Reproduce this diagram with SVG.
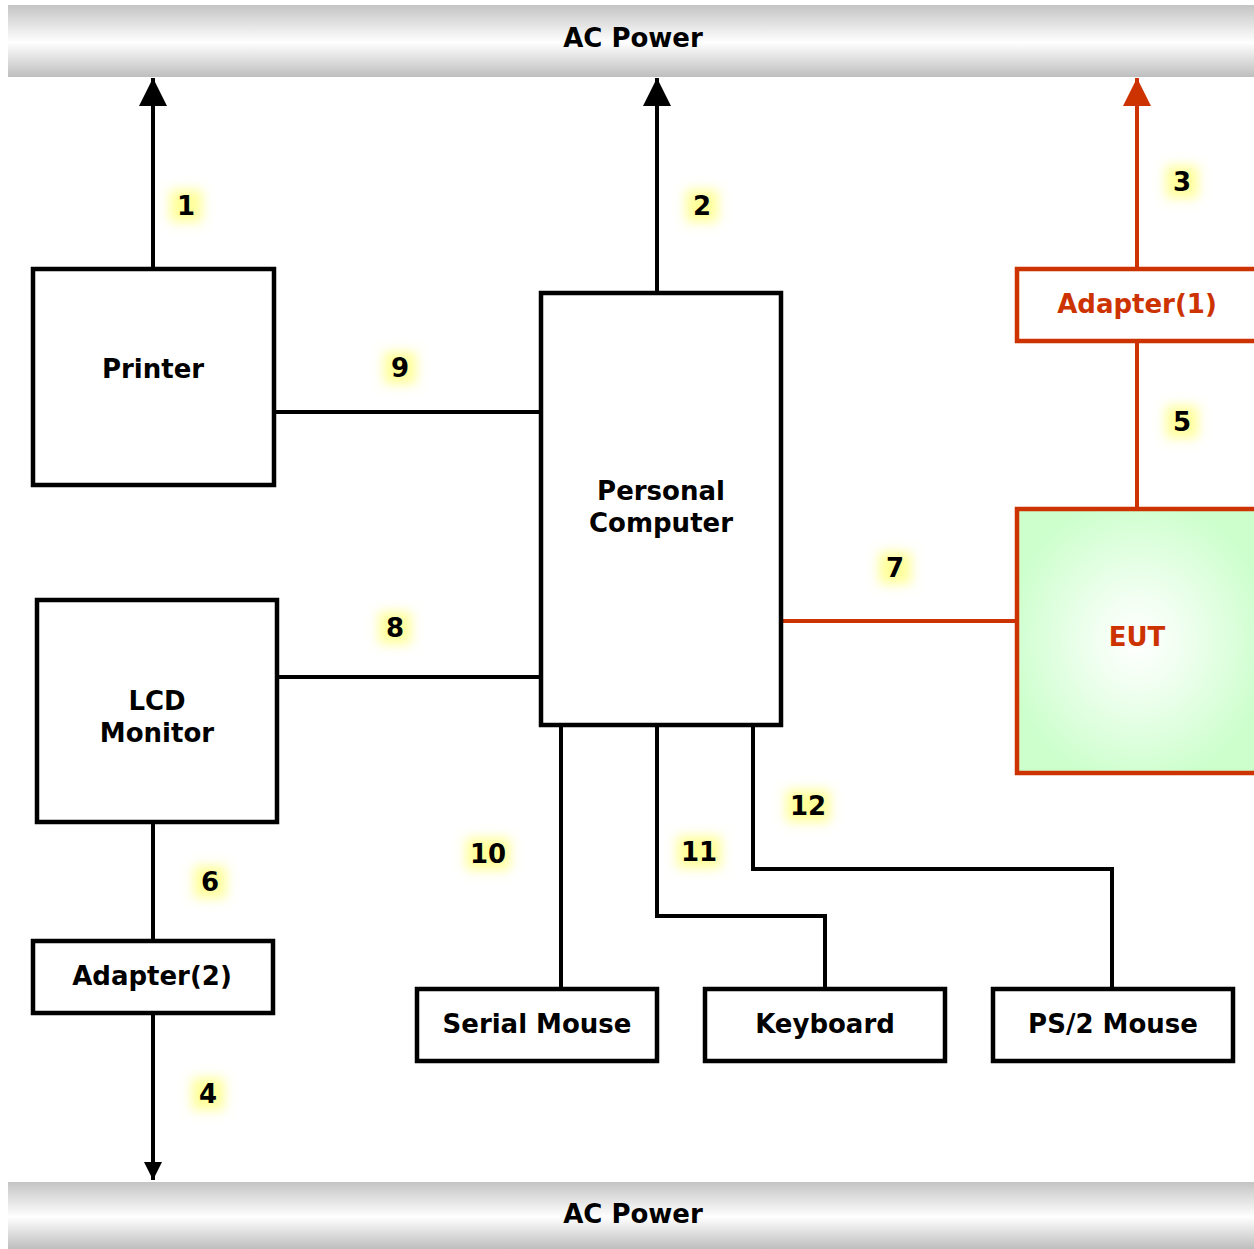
<svg xmlns="http://www.w3.org/2000/svg" width="1254" height="1249" viewBox="0 0 1254 1249">
<defs>
<linearGradient id="bar" x1="0" y1="0" x2="0" y2="1">
<stop offset="0" stop-color="#c4c4c4"/>
<stop offset="0.52" stop-color="#ffffff"/>
<stop offset="1" stop-color="#bebebe"/>
</linearGradient>
<filter id="soft" x="-50%" y="-50%" width="200%" height="200%">
<feGaussianBlur stdDeviation="6"/>
</filter>
<radialGradient id="eut" cx="0.5" cy="0.5" r="0.55">
<stop offset="0" stop-color="#ffffff"/>
<stop offset="0.3" stop-color="#f2fff2"/>
<stop offset="1" stop-color="#ccffcc"/>
</radialGradient>
<marker id="ahK" markerUnits="userSpaceOnUse" markerWidth="30" markerHeight="30" refX="28" refY="14" orient="auto">
<path d="M0,0 L28,14 L0,28 Z" fill="#000"/>
</marker>
<marker id="ahR" markerUnits="userSpaceOnUse" markerWidth="30" markerHeight="30" refX="28" refY="14" orient="auto">
<path d="M0,0 L28,14 L0,28 Z" fill="#cc3300"/>
</marker>
<marker id="ahS" markerUnits="userSpaceOnUse" markerWidth="20" markerHeight="20" refX="18" refY="9" orient="auto">
<path d="M0,0 L18,9 L0,18 Z" fill="#000"/>
</marker>
</defs>
<style>
text{font-family:"DejaVu Sans","Verdana",sans-serif;font-weight:bold;font-size:26px;text-anchor:middle;fill:#000}
.box{fill:#fff;stroke:#000;stroke-width:4.5}
.rbox{fill:#fff;stroke:#cc3300;stroke-width:4.5}
.red{fill:#cc3300}
.ln{fill:none;stroke:#000;stroke-width:4}
.rln{fill:none;stroke:#cc3300;stroke-width:4}
.glow{fill:#ffff99;filter:url(#soft)}
</style>
<rect width="1254" height="1249" fill="#fff"/>
<g id="ac-power-top">
<rect x="8" y="5" width="1246" height="72" fill="url(#bar)"/>
<text x="633" y="47">AC Power</text>
</g>
<g id="ac-power-bottom">
<rect x="8" y="1182" width="1246" height="67" fill="url(#bar)"/>
<text x="633" y="1223">AC Power</text>
</g>
<g id="connectors">
<line class="ln" x1="153" y1="268" x2="153" y2="78" marker-end="url(#ahK)"/>
<line class="ln" x1="657" y1="292" x2="657" y2="78" marker-end="url(#ahK)"/>
<line class="rln" x1="1137" y1="268" x2="1137" y2="78" marker-end="url(#ahR)"/>
<line class="ln" x1="153" y1="1013" x2="153" y2="1180" marker-end="url(#ahS)"/>
<line class="rln" x1="1137" y1="341" x2="1137" y2="509"/>
<line class="ln" x1="153" y1="822" x2="153" y2="941"/>
<line class="ln" x1="274" y1="412" x2="541" y2="412"/>
<line class="ln" x1="277" y1="677" x2="541" y2="677"/>
<line class="rln" x1="781" y1="621" x2="1019" y2="621"/>
<line class="ln" x1="561" y1="725" x2="561" y2="989"/>
<polyline class="ln" points="657,725 657,916 825,916 825,989"/>
<polyline class="ln" points="753,725 753,869 1112,869 1112,989"/>
</g>
<g id="labels">
<rect class="glow" x="170" y="190" width="32" height="32"/><text x="186" y="215">1</text>
<rect class="glow" x="686" y="190" width="32" height="32"/><text x="702" y="215">2</text>
<rect class="glow" x="1166" y="166" width="32" height="32"/><text x="1182" y="191">3</text>
<rect class="glow" x="192" y="1078" width="32" height="32"/><text x="208" y="1103">4</text>
<rect class="glow" x="1166" y="406" width="32" height="32"/><text x="1182" y="431">5</text>
<rect class="glow" x="194" y="866" width="32" height="32"/><text x="210" y="891">6</text>
<rect class="glow" x="879" y="552" width="32" height="32"/><text x="895" y="577">7</text>
<rect class="glow" x="379" y="612" width="32" height="32"/><text x="395" y="637">8</text>
<rect class="glow" x="384" y="352" width="32" height="32"/><text x="400" y="377">9</text>
<rect class="glow" x="466" y="838" width="44" height="32"/><text x="488" y="863">10</text>
<rect class="glow" x="677" y="836" width="44" height="32"/><text x="699" y="861">11</text>
<rect class="glow" x="786" y="790" width="44" height="32"/><text x="808" y="815">12</text>
</g>
<g id="printer">
<rect class="box" x="33" y="269" width="241" height="216"/>
<text x="153" y="378">Printer</text>
</g>
<g id="personal-computer">
<rect class="box" x="541" y="293" width="240" height="432"/>
<text x="661" y="500">Personal</text>
<text x="661" y="532">Computer</text>
</g>
<g id="adapter1">
<rect class="rbox" x="1017" y="269" width="242" height="72"/>
<text class="red" x="1137" y="313">Adapter(1)</text>
</g>
<g id="eut">
<rect x="1017" y="509" width="242" height="264" fill="url(#eut)" stroke="#cc3300" stroke-width="4.5"/>
<text class="red" x="1137" y="646">EUT</text>
</g>
<g id="lcd-monitor">
<rect class="box" x="37" y="600" width="240" height="222"/>
<text x="157" y="710">LCD</text>
<text x="157" y="742">Monitor</text>
</g>
<g id="adapter2">
<rect class="box" x="33" y="941" width="240" height="72"/>
<text x="152" y="985">Adapter(2)</text>
</g>
<g id="serial-mouse">
<rect class="box" x="417" y="989" width="240" height="72"/>
<text x="537" y="1033">Serial Mouse</text>
</g>
<g id="keyboard">
<rect class="box" x="705" y="989" width="240" height="72"/>
<text x="825" y="1033">Keyboard</text>
</g>
<g id="ps2-mouse">
<rect class="box" x="993" y="989" width="240" height="72"/>
<text x="1113" y="1033">PS/2 Mouse</text>
</g>
</svg>
